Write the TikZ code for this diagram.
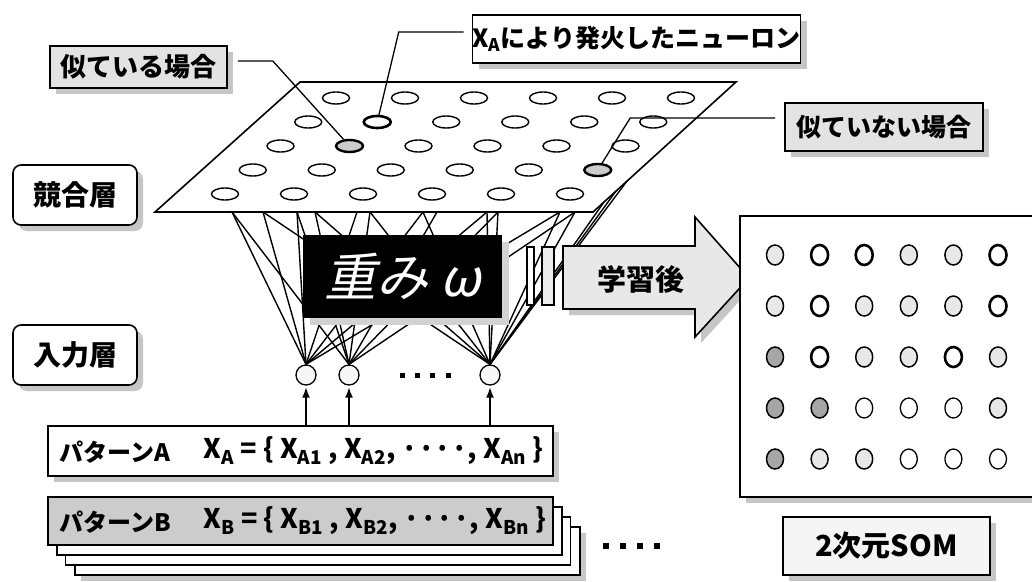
\documentclass[tikz,border=0pt]{standalone}
\usepackage{fontspec}
\setmainfont{Noto Sans CJK JP}
\newfontfamily\slantjp[FakeSlant=0.22]{Noto Sans CJK JP}
\usetikzlibrary{shapes.geometric,arrows.meta,shadows}
\tikzset{
  shad/.style={drop shadow={shadow xshift=6pt,shadow yshift=-6pt,fill=gray!45,opacity=1}},
  lbox/.style={draw,line width=1.6pt,inner sep=0pt,font=\bfseries\fontsize{25}{30}\selectfont,shad},
  layer/.style={lbox,rounded corners=8pt,fill=white,minimum width=124pt,minimum height=60pt,font=\bfseries\fontsize{28}{32}\selectfont},
  neu/.style={ellipse,draw,line width=1.4pt,minimum width=27pt,minimum height=12pt,inner sep=0pt,fill=white},
  hit/.style={line width=2.6pt},
  hatch/.style={line width=2.4pt,fill=gray!40},
  st-1-1/.style={hit}, st-2-1/.style={hatch}, st-3-5/.style={hatch},
  inneu/.style={circle,draw,line width=1.3pt,minimum size=20pt,inner sep=0pt,fill=gray!6},
  wire/.style={line width=1.4pt},
  conn/.style={line width=1.3pt},
  up/.style={line width=2.6pt,-{Latex[length=11pt,width=8pt]},shorten >=1pt},
  sq/.style={fill=black,minimum size=6pt,inner sep=0pt},
  stack/.style={draw,line width=1.4pt,fill=white,inner sep=0pt,minimum width=505pt,minimum height=48pt},
  ftxt/.style={anchor=west,font=\bfseries\fontsize{27}{30}\selectfont},
  somc/.style={ellipse,draw,minimum width=17pt,minimum height=20pt,inner sep=0pt},
  som-w/.style={somc,line width=1.3pt,fill=white},
  som-t/.style={somc,line width=2.6pt,fill=white},
  som-l/.style={somc,line width=1.5pt,fill=gray!18},
  som-d/.style={somc,line width=1.5pt,fill=gray!70},
}
\begin{document}
\begin{tikzpicture}[x=1pt,y=-1pt]
\useasboundingbox (0,0) rectangle (1032,581);
\clip (0,0) rectangle (1032,581);
\fill[white] (0,0) rectangle (1032,581);

% competitive layer plane
\coordinate (p1) at (300,82);
\coordinate (p2) at (736,82);
\coordinate (p3) at (593,212);
\coordinate (p4) at (155,212);
\draw[line width=1.6pt,fill=white] (p1) -- (p2) -- (p3) -- (p4) -- cycle;
\foreach \r in {0,...,4}{
  \foreach \c in {0,...,5}{
    \node[neu,st-\r-\c/.try] (e-\r-\c) at ({336-27.75*\r+69*\c},{98+24*\r}) {};
  }
}

% input neurons
\node[inneu] (n1) at (306,375) {};
\node[inneu] (n2) at (349,375) {};
\node[inneu] (n3) at (490,375) {};
\foreach \x in {402,417,432,448}{ \node[sq,minimum size=5pt] (d\x) at (\x,375) {}; }

% connection end points on the plane
\foreach \x in {232,263,297,315,357,370,423,437,487,498,560,575}{ \coordinate (b\x) at (\x,212); }
\coordinate (r1) at (604,202);
\coordinate (r2) at (616,191);
\coordinate (r3) at (627,181);
\foreach \x in {232,263,297,357,423,487,560}{ \draw[wire] (n1.north) -- (b\x); }
\foreach \x in {232,297,315,370,437,498,575}{ \draw[wire] (n2.north) -- (b\x); }
\foreach \x in {263,315,370,423,487,498,560,575}{ \draw[wire] (n3.north) -- (b\x); }
\foreach \p in {r1,r2,r3}{ \draw[wire] (n3.north) -- (\p); }

% weights box
\node[fill=black,minimum width=199pt,minimum height=83pt,inner sep=0pt,
      drop shadow={shadow xshift=7pt,shadow yshift=-7pt,fill=gray!35,opacity=1},
      text=white,font=\slantjp\fontsize{52}{56}\selectfont] (w) at (402.5,276.5) {重み\hspace{12pt}ω};

% strips and arrow
\node[draw,line width=1.3pt,fill=white,minimum width=7pt,minimum height=58pt,inner sep=0pt] (s1) at (530.5,276) {};
\node[draw,line width=1.3pt,fill=gray!15,minimum width=12pt,minimum height=58pt,inner sep=0pt] (s2) at (548,276) {};
\fill[gray!45] (569,252) -- (701,252) -- (701,223) -- (755,284) -- (701,343) -- (701,315) -- (569,315) -- cycle;
\draw[line width=1.6pt,fill=gray!18] (563,246) -- (695,246) -- (695,217) -- (749,278) -- (695,337) -- (695,309) -- (563,309) -- cycle;
\node[font=\bfseries\fontsize{29}{32}\selectfont] (learn) at (641,279) {学習後};

% arrows from pattern A
\node[stack,minimum height=50pt,shad] (pa) at (300.5,451) {};
\node[anchor=west,font=\bfseries\fontsize{24}{28}\selectfont] (pal) at (56,452) {パターンA};
\node[ftxt] (paf) at (200,451)
   {X\textsubscript{A} = \{ X\textsubscript{A1} , X\textsubscript{A2}, ····, X\textsubscript{An} \}};
\draw[up] (pa.north -| n1) -- (n1.south);
\draw[up] (pa.north -| n2) -- (n2.south);
\draw[up] (pa.north -| n3) -- (n3.south);

% pattern B stack
\node[stack,shad] (k3) at (327.5,551) {};
\node[stack] (k2) at (318,541) {};
\node[stack] (k1) at (309.5,531) {};
\node[stack,fill=gray!40] (pb) at (300.5,521) {};
\node[anchor=west,font=\bfseries\fontsize{24}{28}\selectfont] (pbl) at (56,522) {パターンB};
\node[ftxt] (pbf) at (200,521)
   {X\textsubscript{B} = \{ X\textsubscript{B1} , X\textsubscript{B2}, ····, X\textsubscript{Bn} \}};
\foreach \x in {606,623,640,657}{ \node[sq] (q\x) at (\x,546) {}; }

% layer labels
\node[layer] (comp) at (75,195) {競合層};
\node[layer] (inp) at (75,355) {入力層};

% callouts
\node[lbox,fill=gray!22,minimum width=177pt,minimum height=42pt,font=\bfseries\fontsize{26}{30}\selectfont] (sim) at (138.5,67) {似ている場合};
\node[lbox,fill=white,minimum width=327pt,minimum height=48pt] (xa) at (636.5,39) {X\textsubscript{A}により発火したニューロン};
\node[lbox,fill=gray!22,minimum width=198pt,minimum height=48pt] (nsim) at (884,127) {似ていない場合};
\draw[conn] ([xshift=10pt,yshift=6pt]sim.east) -- ++(35,0) -- (e-2-1);
\draw[conn] ([xshift=-8pt,yshift=7pt]xa.west) -- ++(-65,0) -- (e-1-1);
\draw[conn] ([xshift=-9pt,yshift=9pt]nsim.west) -- ++(-145,0) -- (e-3-5);

% 2D SOM
\node[draw,line width=1.6pt,fill=white,minimum width=310pt,minimum height=281pt,inner sep=0pt,shad] (som) at (895,356.5) {};
\foreach \r/\row in {0/{l,t,t,l,l,t},1/{l,t,l,l,l,t},2/{d,t,l,l,t,l},3/{d,d,w,w,w,l},4/{d,l,l,w,w,w}}{
  \foreach \k [count=\c from 0] in \row {
    \node[som-\k] (s-\r-\c) at ({775+44.6*\c},{255+51*\r}) {};
  }
}
\node[lbox,fill=gray!8,minimum width=207pt,minimum height=58pt,font=\bfseries\fontsize{29}{32}\selectfont] (somlbl) at (886.5,546) {2次元SOM};
\end{tikzpicture}
\end{document}
